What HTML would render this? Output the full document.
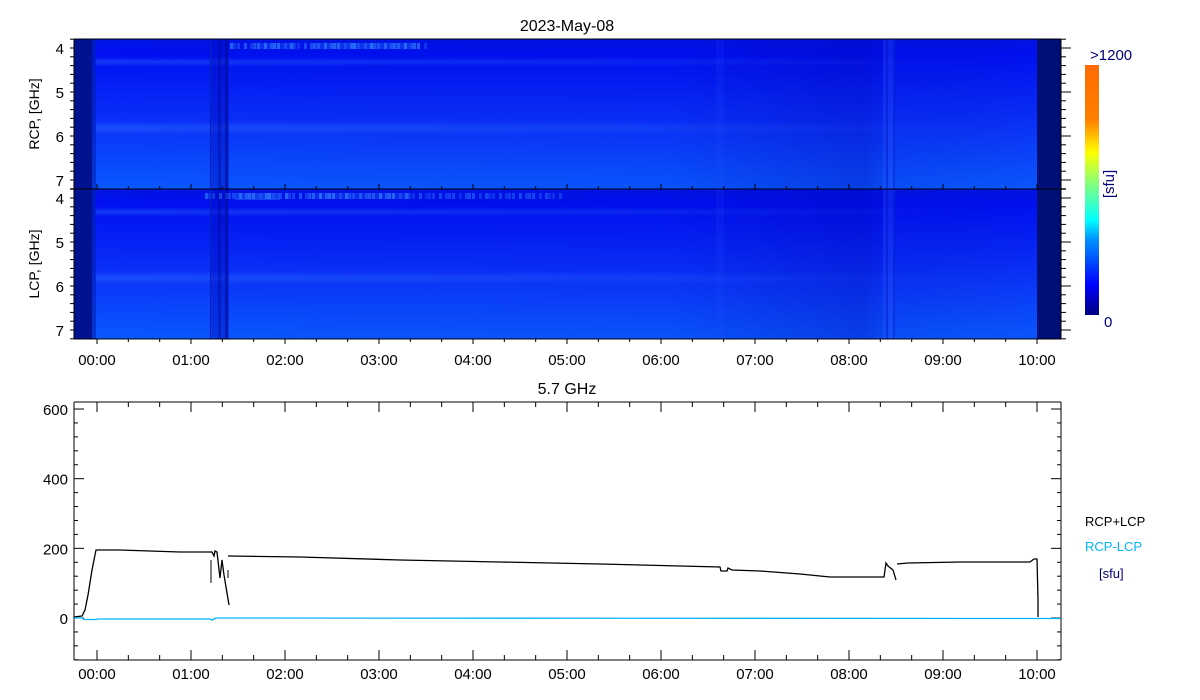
<!DOCTYPE html>
<html><head><meta charset="utf-8"><style>
body{margin:0;background:#fff;width:1200px;height:700px;overflow:hidden}
svg{display:block}
text{font-family:"Liberation Sans","DejaVu Sans",sans-serif;font-size:15px}
</style></head><body>
<svg id="s" width="1200" height="700" xmlns="http://www.w3.org/2000/svg">
<defs>
<linearGradient id="vg" x1="0" y1="0" x2="0" y2="1">
<stop offset="0" stop-color="#0014e4"/><stop offset="0.1" stop-color="#0010f2"/>
<stop offset="0.55" stop-color="#0a30fa"/><stop offset="1" stop-color="#0a58ff"/></linearGradient>
<linearGradient id="hg" x1="0" y1="0" x2="1" y2="0">
<stop offset="0" stop-color="#000" stop-opacity="0"/><stop offset="0.6" stop-color="#0000a0" stop-opacity="0.05"/>
<stop offset="0.8" stop-color="#0000a0" stop-opacity="0.28"/><stop offset="0.83" stop-color="#0000a0" stop-opacity="0.1"/><stop offset="1" stop-color="#000" stop-opacity="0"/></linearGradient>
<linearGradient id="bd" x1="0" y1="0" x2="0" y2="1">
<stop offset="0" stop-color="#3a80ff" stop-opacity="0"/><stop offset="0.5" stop-color="#3a80ff" stop-opacity="0.35"/><stop offset="1" stop-color="#3a80ff" stop-opacity="0"/></linearGradient>
<linearGradient id="bx" x1="0" y1="0" x2="1" y2="0">
<stop offset="0" stop-color="#fff" stop-opacity="1"/><stop offset="0.6" stop-color="#fff" stop-opacity="0.5"/><stop offset="1" stop-color="#fff" stop-opacity="0"/></linearGradient>
<mask id="mk"><rect x="95" y="0" width="900" height="700" fill="url(#bx)"/></mask>
<linearGradient id="cb" x1="0" y1="1" x2="0" y2="0">
<stop offset="0" stop-color="#000080"/><stop offset="0.12" stop-color="#0000ff"/><stop offset="0.3" stop-color="#0090ff"/>
<stop offset="0.38" stop-color="#00ffff"/><stop offset="0.52" stop-color="#80ff80"/><stop offset="0.65" stop-color="#ffff00"/>
<stop offset="0.78" stop-color="#ff8000"/><stop offset="1" stop-color="#ff6a00"/></linearGradient>
</defs>
<g id="g"></g>
</svg>
<script>
var g=document.getElementById('g'),h='';
function R(x,y,w,hh,f,o,ex){h+='<rect x="'+x+'" y="'+y+'" width="'+w+'" height="'+hh+'" fill="'+f+'"'+(o!=null?' opacity="'+o+'"':'')+(ex||'')+'/>';}
function L(a,b,c,d,s,w){h+='<line x1="'+a+'" y1="'+b+'" x2="'+c+'" y2="'+d+'" stroke="'+(s||'#000')+'" stroke-width="'+(w||1)+'"/>';}
function T(x,y,t,a,f,extra){h+='<text x="'+x+'" y="'+y+'" text-anchor="'+(a||'middle')+'" fill="'+(f||'#000')+'" '+(extra||'')+'>'+t+'</text>';}
var X0=74,X1=1061,hx=function(hr){return 97+94*hr;};
[[39,189],[189,339]].forEach(function(p,i){
 var y=p[0],H=p[1]-p[0];
 R(X0,y,X1-X0,H,'url(#vg)');R(X0,y,X1-X0,H,'url(#hg)');
 R(95,y+18,900,10,'url(#bd)',null,' mask="url(#mk)"');R(95,y+82,900,14,'url(#bd)',null,' mask="url(#mk)"');
 R(X0,y,18,H,'#001290');R(92,y,4,H,'#0020b0',0.6);
 R(212,y,17,H,'#0010c8',0.45);R(210,y,1.5,H,'#0020c0');R(218,y,3,H,'#000a80',0.35);R(225,y,3,H,'#000a90',0.55);
 R(716,y,8,H,'#2050ff',0.15);R(883,y,12,H,'#3060ff',0.25);R(886,y,2,H,'#0010c0',0.4);R(893,y,2,H,'#0010c0',0.4);
 R(1037,y,24,H,'#000e78');
 var x0=i?205:230,x1=i?560:430;
 for(var x=x0;x<x1;x+=3+((x*7)%5)){var op=((x*13)%17)/17;R(x,y+4,3,6,'#40a0ff',0.2+0.4*op*(x<420?1:0.5));}
 if(!i){R(310,y+4,100,6,'#3080ff',0.3);R(255,y+4,40,6,'#3080ff',0.25);}else{R(235,y+4,45,7,'#3080ff',0.4);R(310,y+4,100,6,'#3080ff',0.25);}
 for(var f=3.8;f<=7.25;f+=0.2){var yy=y+9+44*(f-4);if(yy<y||yy>p[1])continue;var maj=Math.abs(f-Math.round(f))<0.01;
  L(X0-4,yy,X0,yy);L(X1,yy,X1+(maj?10:5),yy);
  if(maj)T(X0-10,yy+6,Math.round(f),'end');}
});
L(X0,39,X1,39);L(X0,189,X1,189);L(X0,339,X1,339);L(X0,39,X0,339);L(X1,39,X1,339);
for(var m=-20;m<=620;m+=20){var x=hx(m/60);if(x<X0||x>X1)continue;var maj=m%60==0;
 L(x,339,x,339+(maj?5:3));L(x,189,x,189-(maj?5:3));
 if(maj)T(x,365,('0'+m/60).slice(-2)+':00');}
T(567,31,'2023-May-08','middle','#000','style="font-size:16px"');
h+='<text transform="translate(39,114) rotate(-90)" text-anchor="middle" style="font-size:14px">RCP, [GHz]</text>';
h+='<text transform="translate(39,264) rotate(-90)" text-anchor="middle" style="font-size:14px">LCP, [GHz]</text>';
R(1085,65,14,250,'url(#cb)');
T(1090,60,'&gt;1200','start','#00007a');T(1104,327,'0','start','#00007a');
h+='<text transform="translate(1114,184) rotate(-90)" text-anchor="middle" fill="#00007a">[sfu]</text>';
var B0=402,B1=660,yv=function(v){return 618-v*0.3483;};
L(X0,B0,X1,B0);L(X0,B1,X1,B1);L(X0,B0,X0,B1);L(X1,B0,X1,B1);
for(var v=-120;v<=640;v+=40){var yy=yv(v);if(yy<B0||yy>B1)continue;var maj=v%200==0;
 L(X0,yy,X0+(maj?10:4),yy);L(X1,yy,X1-(maj?10:4),yy);if(maj)T(X0-6,yy+6,v,'end');}
for(var m=-20;m<=620;m+=20){var x=hx(m/60);if(x<X0||x>X1)continue;var maj=m%60==0;
 L(x,B0,x,B0+(maj?10:5));L(x,B1,x,B1-(maj?10:5));if(maj)T(x,679,('0'+m/60).slice(-2)+':00');}
T(567,394,'5.7 GHz','middle','#000','style="font-size:16px"');
var pts=[[74,617],[82,616],[85,610],[88,595],[92,570],[96,550],[120,550],[150,551],[180,552],[212,552],[214,556],[215,551],[217,552],[220,578],[222,560],[224,575],[229,605]];
h+='<polyline fill="none" stroke="#000" stroke-width="1.3" points="'+pts.join(' ')+'"/>';
L(211,560,211,583);L(228,570,228,578);
var p2=[[228,556],[300,557],[400,560],[500,562],[600,564],[680,566],[720,567],[721,571],[727,571],[728,568],[732,570],[760,571],[800,574],[830,577],[884,577],[886,563],[888,566],[893,570],[896,580]];
h+='<polyline fill="none" stroke="#000" stroke-width="1.3" points="'+p2.join(' ')+'"/>';
var p3=[[897,564],[908,563],[960,562],[1030,562],[1034,559],[1037,559],[1038,600],[1038,617]];
h+='<polyline fill="none" stroke="#000" stroke-width="1.3" points="'+p3.join(' ')+'"/>';
var c=[[74,618],[82,618],[84,619.5],[96,619.5],[98,619],[210,619],[212,620],[216,618],[220,618],[1061,618.5]];
h+='<polyline fill="none" stroke="#00b4ff" stroke-width="1.3" points="'+c.join(' ')+'"/>';
T(1085,526,'RCP+LCP','start','#000','style="font-size:13px"');
T(1085,551,'RCP-LCP','start','#00b4ff','style="font-size:13px"');
T(1099,578,'[sfu]','start','#00007a','style="font-size:13px"');
g.innerHTML=h;
</script>
</body></html>
